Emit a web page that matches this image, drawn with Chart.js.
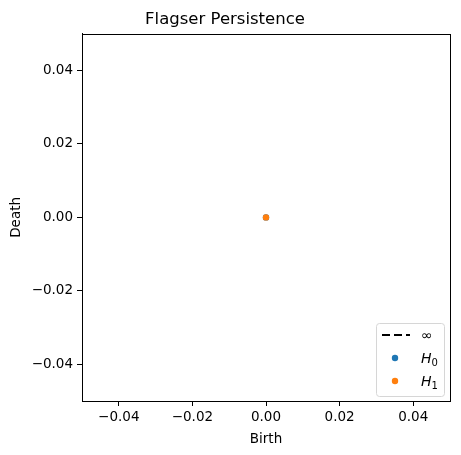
<!DOCTYPE html>
<html>
<head>
<meta charset="utf-8">
<script src="https://cdn.jsdelivr.net/npm/chart.js@4/dist/chart.umd.min.js"></script>
<style>
  html, body { margin: 0; padding: 0; background: #fff; }
  canvas { display: block; }
</style>
</head>
<body>
<canvas id="diagram" width="461" height="455"></canvas>
<script>
// persistence pairs [birth, death]
const h0Points = [[0, 0]];
const h1Points = [[0, 0]];
const infPoints = [];
const xTicks = [-0.04, -0.02, 0, 0.02, 0.04];
const yTicks = [-0.04, -0.02, 0, 0.02, 0.04];

const font = 'DejaVu Sans';

// black frame round the axes
const framePlugin = {
    id: 'frame',
    afterDraw(chart) {
        const a = chart.chartArea;
        const ctx = chart.ctx;
        ctx.save();
        ctx.strokeStyle = '#000';
        ctx.lineWidth = 1;
        ctx.strokeRect(Math.round(a.left) + 0.5, Math.round(a.top) + 0.5,
            Math.round(a.right - a.left), Math.round(a.bottom - a.top));
        ctx.restore();
    }
};

// matplotlib style legend in the lower right corner
const legendPlugin = {
    id: 'mplLegend',
    afterDraw(chart) {
        const a = chart.chartArea;
        const ctx = chart.ctx;
        const w = 68, h = 73;
        const x = a.right - 6 - w, y = a.bottom - 5 - h;
        ctx.save();
        ctx.fillStyle = 'rgba(255,255,255,0.8)';
        ctx.strokeStyle = '#d6d6d6';
        ctx.lineWidth = 1;
        ctx.beginPath();
        ctx.roundRect(x + 0.5, y + 0.5, w, h, 3);
        ctx.fill();
        ctx.stroke();

        chart.data.datasets.forEach((ds, i) => {
            const cy = y + 12 + i * 23;
            if (ds.showLine) {
                ctx.strokeStyle = ds.borderColor;
                ctx.lineWidth = 2;
                ctx.setLineDash(ds.borderDash);
                ctx.beginPath();
                ctx.moveTo(x + 6, cy);
                ctx.lineTo(x + 34, cy);
                ctx.stroke();
                ctx.setLineDash([]);
            } else {
                ctx.fillStyle = ds.backgroundColor;
                ctx.beginPath();
                ctx.arc(x + 19, cy, ds.pointRadius, 0, Math.PI * 2);
                ctx.fill();
            }
            ctx.fillStyle = '#000';
            ctx.textBaseline = 'middle';
            ctx.textAlign = 'left';
            const [main, sub] = ds.label.split('_');
            ctx.font = (sub ? 'italic ' : '') + '14px ' + font;
            ctx.fillText(main, x + 45, cy + 1);
            if (sub) {
                const mw = ctx.measureText(main).width;
                ctx.font = '10px ' + font;
                ctx.fillText(sub, x + 45 + mw, cy + 5);
            }
        });
        ctx.restore();
    }
};

new Chart(document.getElementById('diagram').getContext('2d'), {
    type: 'scatter',
    data: {
        datasets: [
            {
                label: '∞',
                data: infPoints.map(([x, y]) => ({ x, y })),
                showLine: true,
                borderColor: '#000',
                borderDash: [8, 4],
                borderWidth: 2,
                pointRadius: 0,
                order: 3
            },
            {
                label: 'H_0',
                data: h0Points.map(([x, y]) => ({ x, y })),
                backgroundColor: '#1f77b4',
                borderWidth: 0,
                pointRadius: 3.2,
                order: 2
            },
            {
                label: 'H_1',
                data: h1Points.map(([x, y]) => ({ x, y })),
                backgroundColor: '#ff7f0e',
                borderWidth: 0,
                pointRadius: 3.2,
                order: 1
            }
        ]
    },
    options: {
        responsive: false,
        animation: false,
        layout: { padding: { left: 0, right: 11, top: 0, bottom: 0 } },
        plugins: {
            legend: { display: false },
            tooltip: { enabled: false },
            title: {
                display: true,
                text: 'Flagser Persistence',
                color: '#000',
                font: { family: font, size: 16.5, weight: 'normal' },
                padding: { top: 10, bottom: 4 }
            }
        },
        scales: {
            x: {
                min: -0.05,
                max: 0.05,
                afterBuildTicks: s => { s.ticks = xTicks.map(v => ({ value: v })); },
                afterFit: s => { s.height = 54; },
                grid: { drawOnChartArea: false, color: '#000', tickLength: 5, tickColor: '#000' },
                border: { color: '#000' },
                ticks: {
                    color: '#000',
                    padding: 3,
                    maxRotation: 0,
                    font: { family: font, size: 13.5 },
                    callback: v => (v < 0 ? '\u2212' : '') + Math.abs(v).toFixed(2)
                },
                title: {
                    display: true,
                    text: 'Birth',
                    color: '#000',
                    font: { family: font, size: 13.5 },
                    padding: { top: 2, bottom: 7 }
                }
            },
            y: {
                min: -0.05,
                max: 0.05,
                afterBuildTicks: s => { s.ticks = yTicks.map(v => ({ value: v })); },
                afterFit: s => { s.width = 82; },
                grid: { drawOnChartArea: false, color: '#000', tickLength: 5, tickColor: '#000' },
                border: { color: '#000' },
                ticks: {
                    color: '#000',
                    padding: 4,
                    font: { family: font, size: 13.5 },
                    callback: v => (v < 0 ? '\u2212' : '') + Math.abs(v).toFixed(2)
                },
                title: {
                    display: true,
                    text: 'Death',
                    color: '#000',
                    font: { family: font, size: 13.5 },
                    padding: { top: 8, bottom: 4 }
                }
            }
        }
    },
    plugins: [framePlugin, legendPlugin]
});
</script>
</body>
</html>
